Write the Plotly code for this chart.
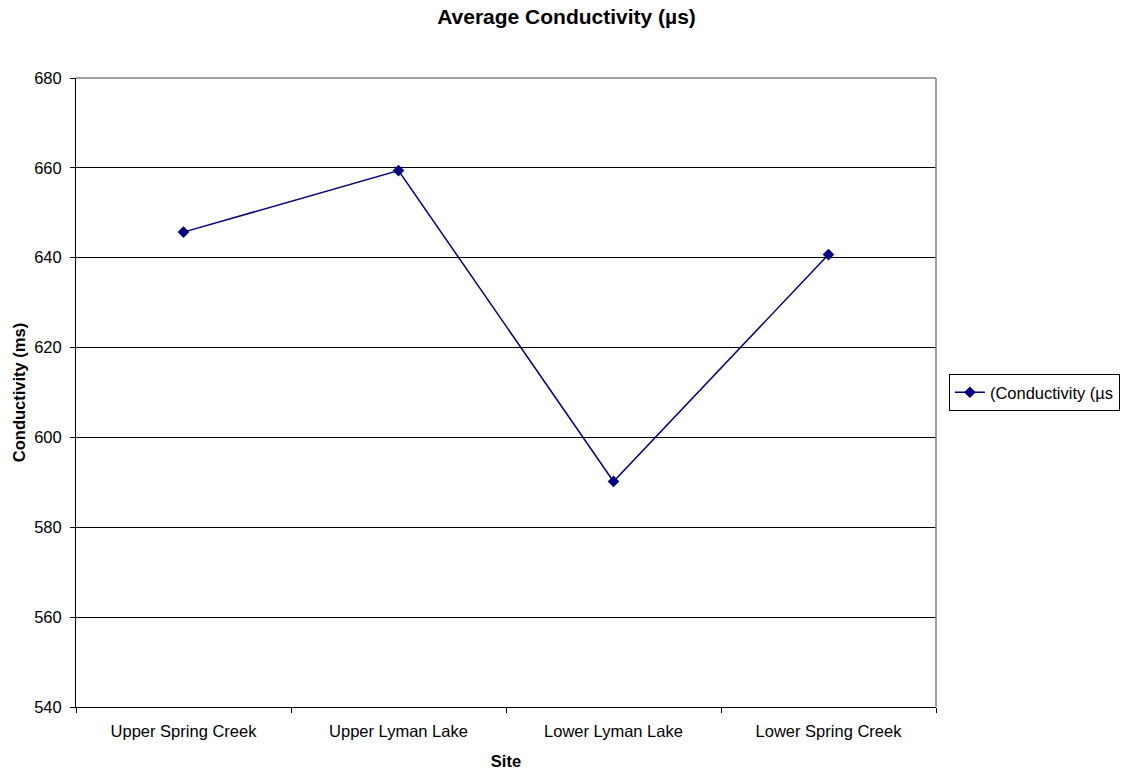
import plotly.graph_objects as go

# site names and average conductivity readings
sites = ["Upper Spring Creek", "Upper Lyman Lake", "Lower Lyman Lake", "Lower Spring Creek"]
conductivity = [645.7, 659.4, 590.2, 640.7]
y_ticks = [540, 560, 580, 600, 620, 640, 660, 680]

navy = "#000080"
font = "Liberation Sans, Arial, sans-serif"

trace = go.Scatter(
    x=sites,
    y=conductivity,
    mode="lines+markers",
    name="(Conductivity (µs",
    line=dict(color=navy, width=1.5),
    marker=dict(symbol="diamond", size=9, color=navy),
)

layout = go.Layout(
    width=1133,
    height=773,
    paper_bgcolor="white",
    plot_bgcolor="white",
    font=dict(family=font, size=16.5, color="black"),
    margin=dict(l=76, r=197, t=78, b=66),
    title=dict(
        text="<b>Average Conductivity (µs)</b>",
        x=0.5, xref="container", xanchor="center",
        y=0.978, yref="container", yanchor="middle",
        font=dict(size=21),
    ),
    xaxis=dict(
        title=dict(text="<b>Site</b>", font=dict(size=16.5), standoff=16),
        range=[-0.5, 3.5],
        showline=True, linecolor="black", linewidth=1,
        ticks="outside", ticklen=5, tickcolor="black",
        tickson="boundaries",
        showgrid=False,
        tickfont=dict(size=16.5),
        ticklabelstandoff=9,
        automargin=False,
    ),
    yaxis=dict(
        title=dict(text="<b>Conductivity (ms)</b>", font=dict(size=16.5), standoff=4),
        range=[540, 680],
        tickvals=y_ticks,
        showline=True, linecolor="black", linewidth=1,
        ticks="outside", ticklen=5, tickcolor="black",
        showgrid=True, gridcolor="black", gridwidth=1,
        zeroline=False,
        tickfont=dict(size=16.5),
        ticklabelstandoff=5,
        automargin=False,
    ),
    legend=dict(
        x=1.015, y=0.5, xanchor="left", yanchor="middle",
        bordercolor="black", borderwidth=1,
        font=dict(size=16.5),
        itemwidth=30,
    ),
    showlegend=True,
)

fig = go.Figure(data=[trace], layout=layout)

# grey top and right frame edges, like the spreadsheet chart
fig.add_shape(type="line", xref="paper", yref="paper", x0=0, x1=1, y0=1, y1=1,
              line=dict(color="#808080", width=1.5))
fig.add_shape(type="line", xref="paper", yref="paper", x0=1, x1=1, y0=0, y1=1,
              line=dict(color="#808080", width=1.5))

# drop the default body margin so the figure fills the window exactly
fig.write_html("out.html",
               config={"displayModeBar": False},
               post_script="document.body.style.margin='0';document.body.style.overflow='hidden';")
